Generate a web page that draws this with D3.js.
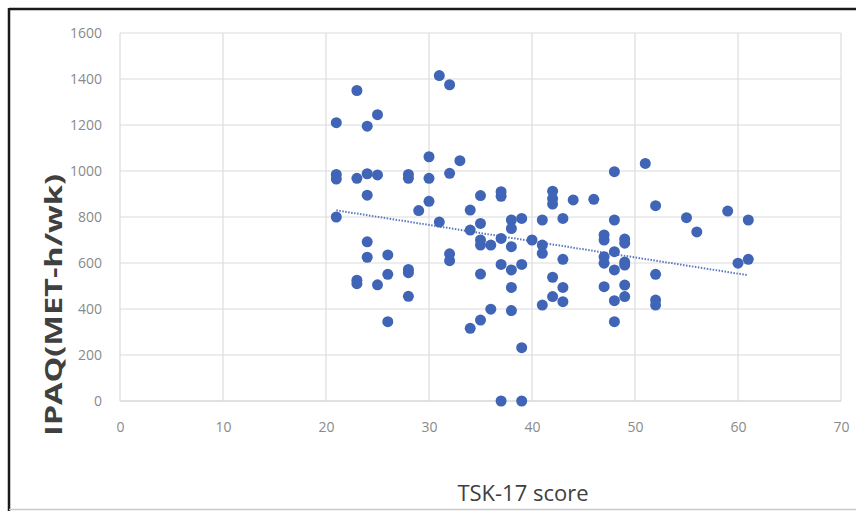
<!DOCTYPE html>
<html>
<head>
<meta charset="utf-8">
<script src="https://cdn.jsdelivr.net/npm/d3@7"></script>
<style>
  body { margin: 0; background: #fff; }
  svg { display: block; font-family: "Open Sans", sans-serif; }
</style>
</head>
<body>
<svg id="chart" width="856" height="511"></svg>
<script>
// --- Data ---
const tskScore = [
  21, 21, 21, 21,
  23, 23, 23, 23,
  24, 24, 24, 24, 24,
  25, 25, 25,
  26, 26, 26,
  28, 28, 28, 28, 28,
  29,
  30, 30, 30,
  31, 31,
  32, 32, 32, 32,
  33,
  34, 34, 34,
  35, 35, 35, 35, 35, 35,
  36, 36,
  37, 37, 37, 37, 37,
  38, 38, 38, 38, 38, 38,
  39, 39, 39, 39,
  40,
  41, 41, 41, 41,
  42, 42, 42, 42, 42,
  43, 43, 43, 43,
  44,
  46,
  47, 47, 47, 47, 47,
  48, 48, 48, 48, 48, 48,
  49, 49, 49, 49, 49, 49,
  51,
  52, 52, 52, 52,
  55,
  56,
  59,
  60,
  61, 61
];
const ipaq = [
  1210, 985, 965, 800,
  1350, 968, 525, 510,
  1195, 988, 895, 692, 625,
  1245, 983, 505,
  635, 551, 345,
  985, 968, 572, 558, 455,
  828,
  1062, 968, 868,
  1415, 778,
  1375, 990, 640, 610,
  1045,
  830, 743, 316,
  893, 772, 700, 678, 552, 352,
  678, 399,
  910, 890, 707, 594, 0,
  787, 750, 671, 570, 494, 393,
  794, 594, 232, 0,
  700,
  787, 678, 642, 417,
  912, 880, 856, 538, 454,
  794, 616, 494, 432,
  874,
  877,
  722, 700, 627, 599, 497,
  997, 787, 649, 570, 436, 345,
  704, 686, 604, 591, 504, 454,
  1033,
  849, 551, 439, 417,
  797,
  735,
  826,
  599,
  787, 616
];
const xTicks = [0, 10, 20, 30, 40, 50, 60, 70];
const yTicks = [0, 200, 400, 600, 800, 1000, 1200, 1400, 1600];
const xTitle = "TSK-17 score";
const yTitle = "IPAQ(MET-h/wk)";

const points = tskScore.map((s, i) => ({ x: s, y: ipaq[i] }));

// --- Set up ---
const svg = d3.select("#chart");
const width = +svg.attr("width");
const height = +svg.attr("height");

// frame of the pasted chart
svg.append("line")
  .attr("x1", 9).attr("x2", width).attr("y1", 9).attr("y2", 9)
  .attr("stroke", "#1a1a1a").attr("stroke-width", 2.5);
svg.append("line")
  .attr("x1", 9).attr("x2", 9).attr("y1", 8).attr("y2", height)
  .attr("stroke", "#1a1a1a").attr("stroke-width", 2.5);
svg.append("line")
  .attr("x1", 9).attr("x2", width).attr("y1", 509.5).attr("y2", 509.5)
  .attr("stroke", "#c9c9c9").attr("stroke-width", 1.5);

// --- Scales ---
const x = d3.scaleLinear().domain([0, 70]).range([120, 841]);
const y = d3.scaleLinear().domain([0, 1600]).range([401, 33]);

// --- Gridlines ---
svg.append("g")
  .selectAll("line")
  .data(yTicks)
  .join("line")
  .attr("x1", x(0)).attr("x2", x(70))
  .attr("y1", d => y(d)).attr("y2", d => y(d))
  .attr("stroke", d => d === 0 ? "#c4c4c4" : "#dcdcdc")
  .attr("stroke-width", 1.2);

svg.append("g")
  .selectAll("line")
  .data(xTicks)
  .join("line")
  .attr("x1", d => x(d)).attr("x2", d => x(d))
  .attr("y1", y(1600)).attr("y2", y(0))
  .attr("stroke", "#dcdcdc")
  .attr("stroke-width", 1.2);

// --- Axes (labels only, Excel style) ---
const xAxis = svg.append("g")
  .attr("transform", `translate(0,${y(0) + 16})`)
  .call(d3.axisBottom(x).tickValues(xTicks).tickFormat(d3.format("d")).tickSize(0).tickPadding(5));
const yAxis = svg.append("g")
  .attr("transform", `translate(${x(0) - 18},0)`)
  .call(d3.axisLeft(y).tickValues(yTicks).tickFormat(d3.format("d")).tickSize(0).tickPadding(0));

[xAxis, yAxis].forEach(g => {
  g.select(".domain").remove();
  g.selectAll("text")
    .attr("fill", "#8a8a8a")
    .attr("font-size", 14)
    .attr("font-family", "'Open Sans', sans-serif");
});

// --- Trendline (least squares) ---
const mx = d3.mean(points, d => d.x);
const my = d3.mean(points, d => d.y);
const slope = d3.sum(points, d => (d.x - mx) * (d.y - my)) /
              d3.sum(points, d => (d.x - mx) ** 2);
const intercept = my - slope * mx;
const xr = d3.extent(points, d => d.x);

svg.append("line")
  .attr("x1", x(xr[0])).attr("y1", y(intercept + slope * xr[0]))
  .attr("x2", x(xr[1])).attr("y2", y(intercept + slope * xr[1]))
  .attr("stroke", "#5a78c0")
  .attr("stroke-width", 2)
  .attr("stroke-dasharray", "1.5 1.5");

// --- Points ---
svg.append("g")
  .selectAll("circle")
  .data(points)
  .join("circle")
  .attr("cx", d => x(d.x))
  .attr("cy", d => y(d.y))
  .attr("r", 5.5)
  .attr("fill", "#4065b6");

// --- Axis titles ---
svg.append("text")
  .attr("x", 523)
  .attr("y", 501)
  .attr("text-anchor", "middle")
  .attr("fill", "#404040")
  .attr("font-size", 22)
  .text(xTitle);

svg.append("text")
  .attr("transform", "translate(62,305) rotate(-90)")
  .attr("text-anchor", "middle")
  .attr("fill", "#404040")
  .attr("font-weight", "bold")
  .attr("font-size", 24)
  .attr("textLength", 262)
  .attr("lengthAdjust", "spacingAndGlyphs")
  .text(yTitle);
</script>
</body>
</html>
